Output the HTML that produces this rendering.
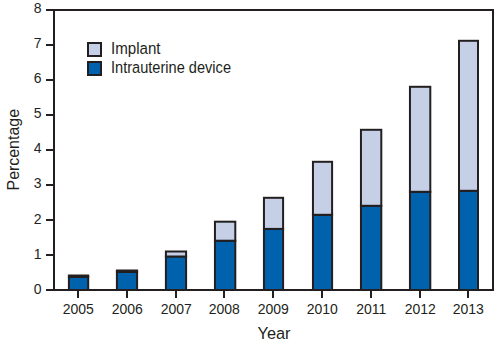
<!DOCTYPE html>
<html><head><meta charset="utf-8"><style>
html,body{margin:0;padding:0;background:#fff;width:501px;height:349px;overflow:hidden}
svg{display:block}
</style></head><body>
<svg width="501" height="349" viewBox="0 0 501 349">
<path d="M46 10H494M493 9V291M46 290H494M54 9V291" stroke="#231f20" stroke-width="2" fill="none"/>
<path d="M46 45H54" stroke="#231f20" stroke-width="2"/>
<path d="M46 80H54" stroke="#231f20" stroke-width="2"/>
<path d="M46 115H54" stroke="#231f20" stroke-width="2"/>
<path d="M46 150H54" stroke="#231f20" stroke-width="2"/>
<path d="M46 185H54" stroke="#231f20" stroke-width="2"/>
<path d="M46 220H54" stroke="#231f20" stroke-width="2"/>
<path d="M46 255H54" stroke="#231f20" stroke-width="2"/>
<path d="M78 291V298" stroke="#231f20" stroke-width="2"/>
<path d="M127 291V298" stroke="#231f20" stroke-width="2"/>
<path d="M176 291V298" stroke="#231f20" stroke-width="2"/>
<path d="M224 291V298" stroke="#231f20" stroke-width="2"/>
<path d="M273 291V298" stroke="#231f20" stroke-width="2"/>
<path d="M322 291V298" stroke="#231f20" stroke-width="2"/>
<path d="M371 291V298" stroke="#231f20" stroke-width="2"/>
<path d="M420 291V298" stroke="#231f20" stroke-width="2"/>
<path d="M468 291V298" stroke="#231f20" stroke-width="2"/>
<rect x="68.90" y="276.9" width="19.30" height="13.10" fill="#0061ad" stroke="#231f20" stroke-width="2.0"/>
<rect x="68.90" y="275.5" width="19.30" height="1.40" fill="#c5cfe6" stroke="#231f20" stroke-width="2.0"/>
<rect x="116.90" y="271.9" width="20.20" height="18.10" fill="#0061ad" stroke="#231f20" stroke-width="2.0"/>
<rect x="116.90" y="270.5" width="20.20" height="1.40" fill="#c5cfe6" stroke="#231f20" stroke-width="2.0"/>
<rect x="165.90" y="256.5" width="20.20" height="33.50" fill="#0061ad" stroke="#231f20" stroke-width="2.0"/>
<rect x="165.90" y="251.5" width="20.20" height="5.00" fill="#c5cfe6" stroke="#231f20" stroke-width="2.0"/>
<rect x="214.95" y="240.7" width="20.35" height="49.30" fill="#0061ad" stroke="#231f20" stroke-width="2.0"/>
<rect x="214.95" y="221.7" width="20.35" height="19.00" fill="#c5cfe6" stroke="#231f20" stroke-width="2.0"/>
<rect x="263.95" y="228.9" width="19.15" height="61.10" fill="#0061ad" stroke="#231f20" stroke-width="2.0"/>
<rect x="263.95" y="197.8" width="19.15" height="31.10" fill="#c5cfe6" stroke="#231f20" stroke-width="2.0"/>
<rect x="312.95" y="214.8" width="19.15" height="75.20" fill="#0061ad" stroke="#231f20" stroke-width="2.0"/>
<rect x="312.95" y="161.8" width="19.15" height="53.00" fill="#c5cfe6" stroke="#231f20" stroke-width="2.0"/>
<rect x="360.95" y="205.8" width="20.35" height="84.20" fill="#0061ad" stroke="#231f20" stroke-width="2.0"/>
<rect x="360.95" y="129.8" width="20.35" height="76.00" fill="#c5cfe6" stroke="#231f20" stroke-width="2.0"/>
<rect x="409.95" y="191.8" width="20.35" height="98.20" fill="#0061ad" stroke="#231f20" stroke-width="2.0"/>
<rect x="409.95" y="86.8" width="20.35" height="105.00" fill="#c5cfe6" stroke="#231f20" stroke-width="2.0"/>
<rect x="459.00" y="190.8" width="19.00" height="99.20" fill="#0061ad" stroke="#231f20" stroke-width="2.0"/>
<rect x="459.00" y="40.8" width="19.00" height="150.00" fill="#c5cfe6" stroke="#231f20" stroke-width="2.0"/>
<rect x="88" y="43" width="13" height="13" fill="#c5cfe6" stroke="#231f20" stroke-width="2.0"/>
<rect x="88" y="62" width="13" height="13" fill="#0061ad" stroke="#231f20" stroke-width="2.0"/>
<text transform="translate(111 54) scale(1 1.03)" x="0" y="0" font-size="15.2" textLength="49.5" lengthAdjust="spacingAndGlyphs" fill="#231f20" font-family="Liberation Sans, sans-serif">Implant</text>
<text transform="translate(111 73) scale(1 1.03)" x="0" y="0" font-size="15.2" textLength="120" lengthAdjust="spacingAndGlyphs" fill="#231f20" font-family="Liberation Sans, sans-serif">Intrauterine device</text>
<text x="41.5" y="294" font-size="14" text-anchor="end" fill="#231f20" font-family="Liberation Sans, sans-serif">0</text>
<text x="41.5" y="259" font-size="14" text-anchor="end" fill="#231f20" font-family="Liberation Sans, sans-serif">1</text>
<text x="41.5" y="224" font-size="14" text-anchor="end" fill="#231f20" font-family="Liberation Sans, sans-serif">2</text>
<text x="41.5" y="188" font-size="14" text-anchor="end" fill="#231f20" font-family="Liberation Sans, sans-serif">3</text>
<text x="41.5" y="153" font-size="14" text-anchor="end" fill="#231f20" font-family="Liberation Sans, sans-serif">4</text>
<text x="41.5" y="118" font-size="14" text-anchor="end" fill="#231f20" font-family="Liberation Sans, sans-serif">5</text>
<text x="41.5" y="83" font-size="14" text-anchor="end" fill="#231f20" font-family="Liberation Sans, sans-serif">6</text>
<text x="41.5" y="48" font-size="14" text-anchor="end" fill="#231f20" font-family="Liberation Sans, sans-serif">7</text>
<text x="41.5" y="13" font-size="14" text-anchor="end" fill="#231f20" font-family="Liberation Sans, sans-serif">8</text>
<text x="78.25" y="314" font-size="14" text-anchor="middle" fill="#231f20" font-family="Liberation Sans, sans-serif">2005</text>
<text x="127.25" y="314" font-size="14" text-anchor="middle" fill="#231f20" font-family="Liberation Sans, sans-serif">2006</text>
<text x="176.25" y="314" font-size="14" text-anchor="middle" fill="#231f20" font-family="Liberation Sans, sans-serif">2007</text>
<text x="224.25" y="314" font-size="14" text-anchor="middle" fill="#231f20" font-family="Liberation Sans, sans-serif">2008</text>
<text x="273.25" y="314" font-size="14" text-anchor="middle" fill="#231f20" font-family="Liberation Sans, sans-serif">2009</text>
<text x="322.25" y="314" font-size="14" text-anchor="middle" fill="#231f20" font-family="Liberation Sans, sans-serif">2010</text>
<text x="371.25" y="314" font-size="14" text-anchor="middle" fill="#231f20" font-family="Liberation Sans, sans-serif">2011</text>
<text x="420.25" y="314" font-size="14" text-anchor="middle" fill="#231f20" font-family="Liberation Sans, sans-serif">2012</text>
<text x="468.25" y="314" font-size="14" text-anchor="middle" fill="#231f20" font-family="Liberation Sans, sans-serif">2013</text>
<text x="257.5" y="339" font-size="16.8" textLength="33" lengthAdjust="spacingAndGlyphs" fill="#231f20" font-family="Liberation Sans, sans-serif">Year</text>
<text transform="translate(19 190.5) rotate(-90)" x="0" y="0" font-size="16.5" textLength="81.5" lengthAdjust="spacingAndGlyphs" fill="#231f20" font-family="Liberation Sans, sans-serif">Percentage</text>
</svg>
</body></html>
